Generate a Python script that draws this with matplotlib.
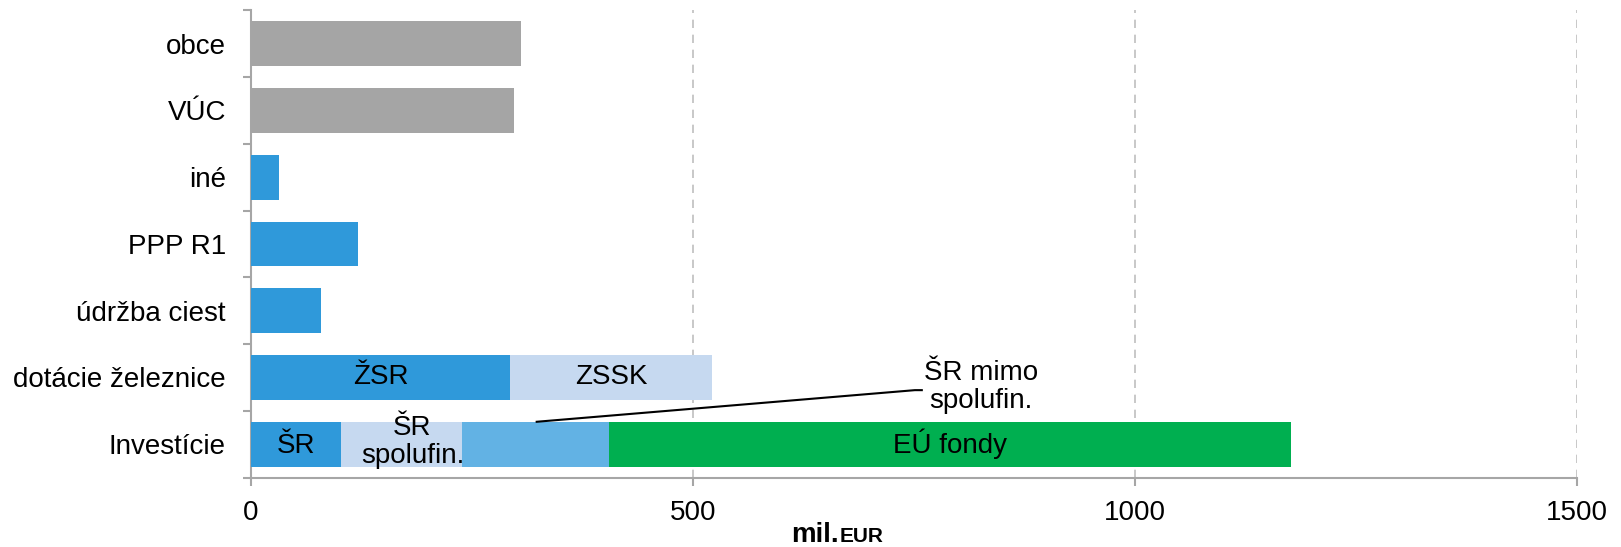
import matplotlib
matplotlib.use("Agg")
import matplotlib.pyplot as plt
import numpy as np

plt.rcParams['font.family'] = ['Liberation Sans', 'DejaVu Sans']

# Categories, bottom to top
categories = ["Investície", "dotácie železnice", "údržba ciest", "PPP R1", "iné", "VÚC", "obce"]

# Single-value bars (mil. EUR)
single_cats = ["údržba ciest", "PPP R1", "iné", "VÚC", "obce"]
single_vals = [79, 121, 32, 298, 305]

# Railway subsidies split
rail_parts = ["ŽSR", "ZSSK"]
rail_vals = [293, 229]

# Investment split
inv_parts = ["ŠR", "ŠR\nspolufin.", "ŠR mimo\nspolufin.", "EÚ fondy"]
inv_vals = [102, 137, 166, 771]

x_ticks = [0, 500, 1000, 1500]
x_label_main = "mil."
x_label_unit = "EUR"

GREY = "#A5A5A5"
BLUE = "#2F99DA"
LIGHT = "#C6D9F0"
MID = "#62B2E4"
GREEN = "#00AF50"
AXIS = "#A6A6A6"

single_colors = {"údržba ciest": BLUE, "PPP R1": BLUE, "iné": BLUE, "VÚC": GREY, "obce": GREY}

fig = plt.figure(figsize=(16.21, 5.47), dpi=100)
ax = fig.add_axes([251 / 1621, 69.4 / 547, (1577 - 251) / 1621, (536.7 - 69.4) / 547])

ypos = {c: i for i, c in enumerate(categories)}
h = 0.67
fs = 20

for c, v in zip(single_cats, single_vals):
    ax.barh(ypos[c], v, height=h, color=single_colors[c], zorder=3)

# railway stacked bar
left = 0
for name, v, col in zip(rail_parts, rail_vals, [BLUE, LIGHT]):
    ax.barh(ypos["dotácie železnice"], v, left=left, height=h, color=col, zorder=3)
    ax.text(left + v / 2, ypos["dotácie železnice"], name, ha="center", va="center",
            fontsize=fs, color="black", zorder=5)
    left += v

# investment stacked bar
left = 0
inv_colors = [BLUE, LIGHT, MID, GREEN]
y0 = ypos["Investície"]
for i, (name, v, col) in enumerate(zip(inv_parts, inv_vals, inv_colors)):
    ax.barh(y0, v, left=left, height=h, color=col, zorder=3)
    mid = left + v / 2
    if i == 0:
        ax.text(mid, y0 - 0.02, name, ha="center", va="center", fontsize=fs, zorder=5)
    elif i == 1:
        ax.text(mid + 12, y0 + 0.04, name, ha="center", va="center", fontsize=fs,
                linespacing=1.1, zorder=5)
    elif i == 2:
        # callout label above the bar with a leader line
        ax.text(826, y0 + 0.85, name, ha="center", va="center", fontsize=fs,
                linespacing=1.1, zorder=5)
        ax.plot([mid, 751, 760], [y0 + h / 2, y0 + 0.81, y0 + 0.81],
                color="black", lw=1.5, zorder=5, solid_capstyle="butt")
    else:
        ax.text(mid, y0, name, ha="center", va="center", fontsize=fs, zorder=5)
    left += v

ax.set_xlim(0, 1500)
ax.set_ylim(-0.5, len(categories) - 0.5)
ax.set_xticks(x_ticks)
ax.set_xticklabels([str(t) for t in x_ticks], fontsize=fs)
ax.set_yticks(range(len(categories)))
ax.set_yticklabels(categories, fontsize=fs)
ax.set_yticks(np.arange(-0.5, len(categories), 1.0), minor=True)

ax.tick_params(axis="y", which="major", length=0, pad=18)
ax.tick_params(axis="y", which="minor", length=6, width=1.5, color=AXIS, direction="out")
ax.tick_params(axis="x", which="major", length=6, width=1.5, color=AXIS, direction="out", pad=10)

for t in x_ticks[1:]:
    ax.axvline(t, color="#BFBFBF", lw=1.2, ls=(0, (5, 4)), zorder=1)

for s in ["top", "right"]:
    ax.spines[s].set_visible(False)
for s in ["left", "bottom"]:
    ax.spines[s].set_color(AXIS)
    ax.spines[s].set_linewidth(1.5)

# axis unit label: "mil." followed by smaller "EUR"
t1 = fig.text(791 / 1621, 5 / 547, x_label_main, fontsize=20, fontweight="bold",
              ha="left", va="baseline")
fig.canvas.draw()
bb = t1.get_window_extent()
fig.text((bb.x1 + 1) / 1621, 5 / 547, x_label_unit, fontsize=15, fontweight="bold",
         ha="left", va="baseline")

fig.savefig("out.png", dpi=100)
